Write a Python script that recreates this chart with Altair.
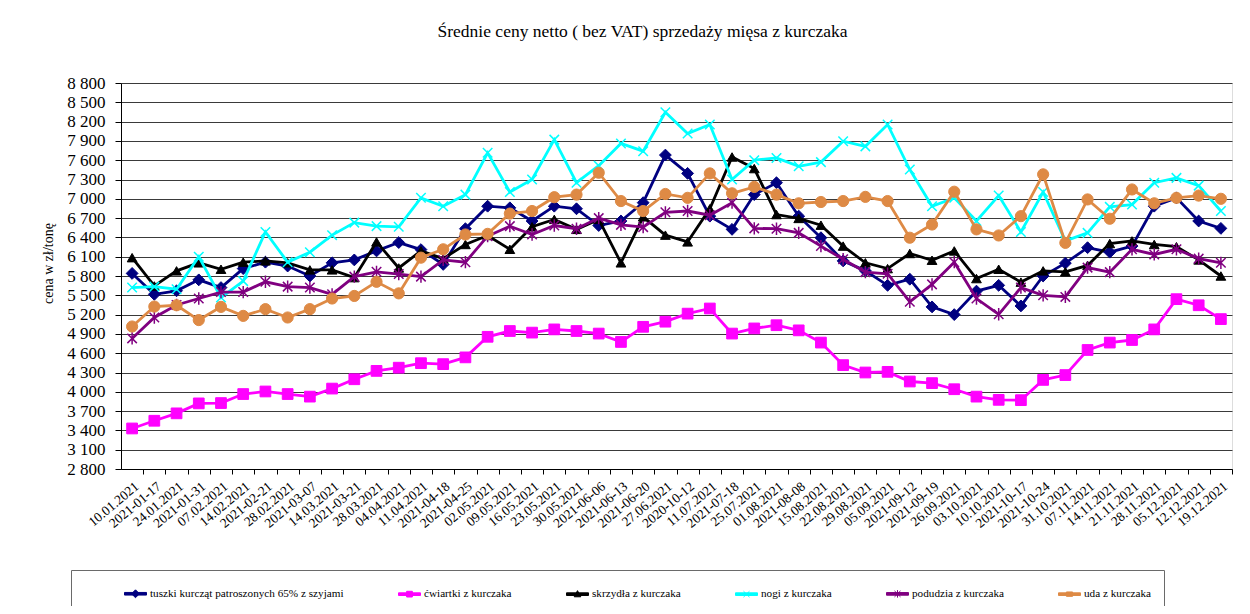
import altair as alt
import pandas as pd

dates = [
    "10.01.2021", "2021-01-17", "24.01.2021", "2021-01-31", "07.02.2021", "14.02.2021",
    "2021-02-21", "28.02.2021", "2021-03-07", "14.03.2021", "2021-03-21", "28.03.2021",
    "04.04.2021", "11.04.2021", "2021-04-18", "2021-04-25", "02.05.2021", "09.05.2021",
    "16.05.2021", "23.05.2021", "30.05.2021", "2021-06-06", "2021-06-13", "2021-06-20",
    "27.06.2021", "2020-10-12", "11.07.2021", "2021-07-18", "25.07.2021", "01.08.2021",
    "2021-08-08", "15.08.2021", "22.08.2021", "29.08.2021", "05.09.2021", "2021-09-12",
    "2021-09-19", "26.09.2021", "03.10.2021", "10.10.2021", "2021-10-17", "2021-10-24",
    "31.10.2021", "07.11.2021", "14.11.2021", "21.11.2021", "28.11.2021", "05.12.2021",
    "12.12.2021", "19.12.2021",
]

series_names = [
    "tuszki kurcząt patroszonych 65% z szyjami",
    "ćwiartki z kurczaka",
    "skrzydła z kurczaka",
    "nogi z kurczaka",
    "podudzia z kurczaka",
    "uda z kurczaka",
]

tuszki = [5840, 5515, 5570, 5740, 5620, 5915, 6015, 5955, 5800, 6005, 6050, 6190, 6320,
          6210, 5980, 6535, 6885, 6860, 6655, 6885, 6845, 6585, 6655, 6940, 7680, 7395,
          6730, 6525, 7065, 7250, 6730, 6395, 6035, 5880, 5655, 5750, 5320, 5200, 5565,
          5655, 5335, 5800, 6000, 6240, 6170, 6265, 6885, 7015, 6655, 6540]
cwiartki = [3430, 3550, 3665, 3820, 3825, 3965, 4005, 3965, 3925, 4050, 4195, 4325, 4375,
            4445, 4430, 4535, 4855, 4945, 4920, 4970, 4945, 4905, 4775, 5010, 5090, 5215,
            5295, 4905, 4985, 5035, 4955, 4765, 4415, 4300, 4310, 4160, 4135, 4040, 3925,
            3875, 3870, 4185, 4260, 4650, 4765, 4805, 4970, 5440, 5345, 5130]
skrzydla = [6085, 5645, 5880, 6005, 5905, 6015, 6035, 6005, 5895, 5895, 5775, 6330, 5925,
            6190, 6070, 6290, 6430, 6215, 6565, 6680, 6525, 6680, 6005, 6720, 6435, 6330,
            6845, 7650, 7470, 6755, 6695, 6590, 6265, 6005, 5915, 6150, 6045, 6190, 5760,
            5905, 5705, 5880, 5865, 5965, 6305, 6345, 6290, 6255, 6050, 5800]
nogi = [5620, 5635, 5595, 6100, 5465, 5720, 6485, 6015, 6170, 6435, 6630, 6575, 6565,
        7015, 6885, 7065, 7715, 7105, 7300, 7920, 7250, 7515, 7860, 7740, 8345, 8015,
        8155, 7300, 7600, 7635, 7505, 7570, 7895, 7815, 8155, 7455, 6885, 7015, 6655,
        7050, 6485, 7105, 6345, 6470, 6875, 6910, 7250, 7325, 7205, 6810]
podudzia = [4830, 5155, 5350, 5450, 5550, 5550, 5710, 5635, 5620, 5515, 5790, 5865, 5830,
            5790, 6050, 6015, 6420, 6575, 6445, 6585, 6535, 6700, 6595, 6560, 6790, 6810,
            6745, 6940, 6540, 6535, 6470, 6265, 6060, 5860, 5835, 5400, 5670, 6015, 5450,
            5205, 5620, 5500, 5475, 5930, 5860, 6215, 6135, 6215, 6070, 6005]
uda = [5015, 5325, 5345, 5115, 5320, 5180, 5285, 5155, 5285, 5450, 5490, 5710, 5530,
       6085, 6215, 6445, 6455, 6770, 6810, 7025, 7065, 7405, 6965, 6810, 7075, 7015,
       7395, 7085, 7185, 7065, 6930, 6950, 6965, 7030, 6965, 6395, 6600, 7110, 6525,
       6430, 6730, 7380, 6315, 6990, 6690, 7145, 6930, 7015, 7050, 7000]

all_values = [tuszki, cwiartki, skrzydla, nogi, podudzia, uda]

colors = ["#000080", "#FF00FF", "#000000", "#00FFFF", "#800080", "#DE8A45"]
X_PATH = "M-1,-1L1,1M-1,1L1,-1"
STAR_PATH = "M-1,-1L1,1M-1,1L1,-1M0,-1.3L0,1.3"
point_shapes = ["diamond", "square", "triangle-up", X_PATH, STAR_PATH, "circle"]
point_sizes = [140, 115, 95, 90, 90, 125]
point_filled = [True, True, True, False, False, True]

legend_line = "M-1,-0.12H1V0.12H-1Z"
legend_markers = [
    "M-0.36,0L0,-0.36L0.36,0L0,0.36Z",
    "M-0.26,-0.26H0.26V0.26H-0.26Z",
    "M0,-0.32L0.3,0.24H-0.3Z",
    "M-0.27,-0.27L0.27,0.27M-0.27,0.27L0.27,-0.27",
    "M-0.27,-0.27L0.27,0.27M-0.27,0.27L0.27,-0.27M0,-0.34V0.34",
    "M-0.28,-0.2H0.28V0.2H-0.28Z",
]
legend_paths = [legend_line + m for m in legend_markers]

rows = []
for name, vals in zip(series_names, all_values):
    for d, v in zip(dates, vals):
        rows.append({"data": d, "seria": name, "cena": v})
df = pd.DataFrame(rows)

FONT = "Liberation Serif"
W, H = 1111, 386
step = W / len(dates)

x_enc = alt.X(
    "data:O",
    sort=dates,
    scale=alt.Scale(type="point", padding=0.5),
    axis=alt.Axis(
        title=None, labelAngle=-40, labelFont=FONT, labelFontSize=13.5,
        labelColor="black", tickColor="black", tickSize=5, tickOffset=step / 2,
        labelOffset=-step / 2, labelPadding=5, domainColor="black", grid=False,
        labelOverlap=False, labelBound=False,
    ),
)
y_enc = alt.Y(
    "cena:Q",
    scale=alt.Scale(domain=[2800, 8800], nice=False, zero=False),
    axis=alt.Axis(
        values=list(range(2800, 8801, 300)),
        labelExpr="replace(format(datum.value, ','), ',', ' ')",
        title="cena w zł/tonę", titleFont=FONT, titleFontSize=14,
        titleFontWeight="normal", titleColor="black", titleX=-73, titleY=180,
        titleAngle=-90, titleBaseline="middle", titleAlign="center",
        labelFont=FONT, labelFontSize=17, labelColor="black", labelPadding=10,
        tickColor="black", tickSize=6, domainColor="black",
        grid=True, gridColor="#3a3a3a", gridWidth=1,
    ),
)

legend_def = alt.Legend(
    orient="none", legendX=-50, legendY=487, direction="horizontal",
    columns=6, columnPadding=52, title="\u00a0", titleOrient="left",
    titlePadding=41, titleFontSize=11, padding=12, strokeColor="#6a6a6a",
    fillColor="white", labelFont=FONT, labelFontSize=11.2, labelColor="black",
    labelLimit=400, labelOffset=3, symbolSize=484, symbolStrokeWidth=1,
    symbolOpacity=1,
)

base = alt.Chart(df)
layers = []
for i, name in enumerate(series_names):
    sub = base.transform_filter(alt.datum.seria == name)
    line = sub.mark_line(strokeWidth=2.8, color=colors[i]).encode(x=x_enc, y=y_enc)
    pts = sub.mark_point(
        shape=point_shapes[i], size=point_sizes[i], filled=point_filled[i],
        color=colors[i], stroke=colors[i],
        strokeWidth=1.5 if not point_filled[i] else 1, opacity=1,
    ).encode(x=x_enc, y=y_enc)
    layers += [line, pts]

legend_layer = base.mark_point(
    filled=True, opacity=1, strokeWidth=1
).encode(
    color=alt.Color("seria:N", scale=alt.Scale(domain=series_names, range=colors),
                    legend=legend_def),
    shape=alt.Shape("seria:N", scale=alt.Scale(domain=series_names, range=legend_paths),
                    legend=legend_def),
    stroke=alt.Stroke("seria:N", scale=alt.Scale(domain=series_names, range=colors),
                      legend=legend_def),
    size=alt.value(0),
    x=alt.value(0), y=alt.value(0),
)
layers.append(legend_layer)

chart = alt.layer(*layers).properties(
    width=W,
    height=H,
    autosize=alt.AutoSizeParams(type="none"),
    padding={"left": 113, "top": 75, "right": 10, "bottom": 137},
    title=alt.TitleParams(
        text="Średnie ceny netto ( bez VAT) sprzedaży mięsa z kurczaka",
        font=FONT, fontSize=17.5, fontWeight="normal", color="black",
        anchor="middle", dx=-34, offset=16, baseline="bottom",
    ),
).configure_view(
    stroke="#808080", strokeWidth=1
).configure(background="white")

chart.save("out.html", embed_options={"renderer": "svg", "actions": False})
